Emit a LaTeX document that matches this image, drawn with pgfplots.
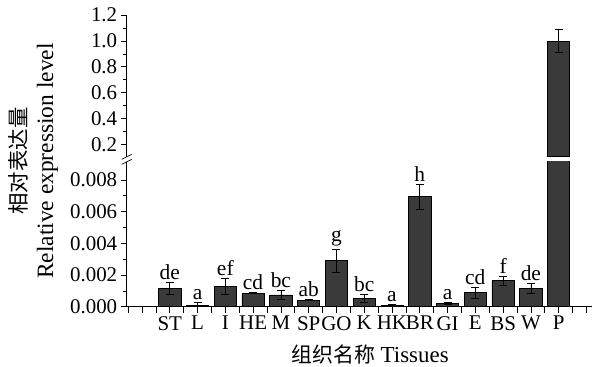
\documentclass[border=0pt]{standalone}
\usepackage{pgfplots}
\pgfplotsset{compat=1.18}
\usepackage{pgfplotstable}
\usepackage{fontspec}
\setmainfont{Liberation Serif}
\newfontfamily\cjk{Noto Sans CJK SC}
\definecolor{barfill}{RGB}{58,58,58}

\pgfplotstableread{
x y err
1 0.00116 0.00040
2 0.00010 0.00015
3 0.00130 0.00050
4 0.00086 0.00004
5 0.00074 0.00030
6 0.00042 0.00003
7 0.00290 0.00075
8 0.00053 0.00025
9 0.00010 0.00004
10 0.00694 0.00078
11 0.00021 0.00004
12 0.00088 0.00033
13 0.00164 0.00030
14 0.00116 0.00030
15 1.00000 0.00000
}\lowdata

\pgfplotstableread{
x y lab
1 0.00156 de
2 0.00025 a
3 0.00180 ef
4 0.00090 cd
5 0.00104 bc
6 0.00045 ab
7 0.00365 g
8 0.00078 bc
9 0.00014 a
10 0.00772 h
11 0.00025 a
12 0.00121 cd
13 0.00194 f
14 0.00146 de
}\labdata

\pgfplotstableread{
x y err
15 1.00 0.09
}\updata

\begin{document}
\begin{tikzpicture}
\pgfplotsset{
  common/.style={
    scale only axis,
    width=465.3bp,
    xmin=-0.55, xmax=16.2,
    tick align=outside,
    major tick length=6bp,
    minor tick length=4bp,
    tick style={black, line width=0.6pt},
    axis line style={black, line width=0.8pt, -},
    ticklabel style={font=\fontsize{21}{24}\selectfont},
    /pgf/number format/assume math mode=true,
    minor y tick num=1,
    scaled y ticks=false,
    error bars/error bar style={line width=0.7pt, black},
    error bars/error mark options={rotate=90, mark size=4bp, line width=0.7pt, black},
  }
}
\begin{axis}[common,
  name=lower,
  at={(0,0)}, anchor=south west,
  height=145bp,
  ymin=0, ymax=0.00915,
  axis x line*=bottom, axis y line*=left,
  xtick={-0.5,0,...,16},
  xticklabels={,,,ST,,L,,I,,HE,,M,,SP,,GO,,K,,HK,,BR,,GI,,E,,BS,,W,,P,,},
  ytick={0,0.002,0.004,0.006,0.008},
  yticklabel style={/pgf/number format/.cd, fixed, fixed zerofill, precision=3},
]
\addplot[ybar, bar width=0.8, fill=barfill, draw=black, line width=0.6pt,
  y filter/.expression={min(y,0.0096)},
  error bars/.cd, y dir=both, y explicit]
  table[x=x, y=y, y error=err]{\lowdata};
\addplot[draw=none, mark=none, nodes near coords, point meta=explicit symbolic,
  nodes near coords style={anchor=south, inner sep=2.5bp, font=\fontsize{21.5}{24}\selectfont, text=black}]
  table[x=x, y=y, meta=lab]{\labdata};
\end{axis}
\begin{axis}[common,
  name=upper,
  at={(0,149.9bp)}, anchor=south west,
  height=141.8bp,
  ymin=0.105, ymax=1.2,
  axis x line=none, axis y line*=left,
  ytick={0.2,0.4,0.6,0.8,1.0,1.2},
  yticklabel style={/pgf/number format/.cd, fixed, fixed zerofill, precision=1},
]
\addplot[ybar, bar width=0.8, fill=barfill, draw=black, line width=0.6pt,
  error bars/.cd, y dir=both, y explicit]
  table[x=x, y=y, y error=err]{\updata};
\end{axis}
% axis break marks
\draw[black, line width=0.7pt] (-5bp,142.4bp) -- (5bp,147.4bp);
\draw[black, line width=0.7pt] (-5bp,147.4bp) -- (5bp,152.4bp);
% axis titles
\node[rotate=90, font=\cjk\fontsize{21.5}{24}\selectfont] at (-108.7bp,145.7bp) {相对表达量};
\node[rotate=90, font=\fontsize{23.5}{26}\selectfont] at (-79.2bp,145.7bp) {Relative expression level};
\node[font=\fontsize{23}{26}\selectfont] at (243.3bp,-48.3bp) {{\cjk\fontsize{21}{26}\selectfont 组织名称} Tissues};
\pgfresetboundingbox
\path[use as bounding box] (-126.7bp,-60.3bp) rectangle (473.3bp,306.7bp);
\end{tikzpicture}
\end{document}
